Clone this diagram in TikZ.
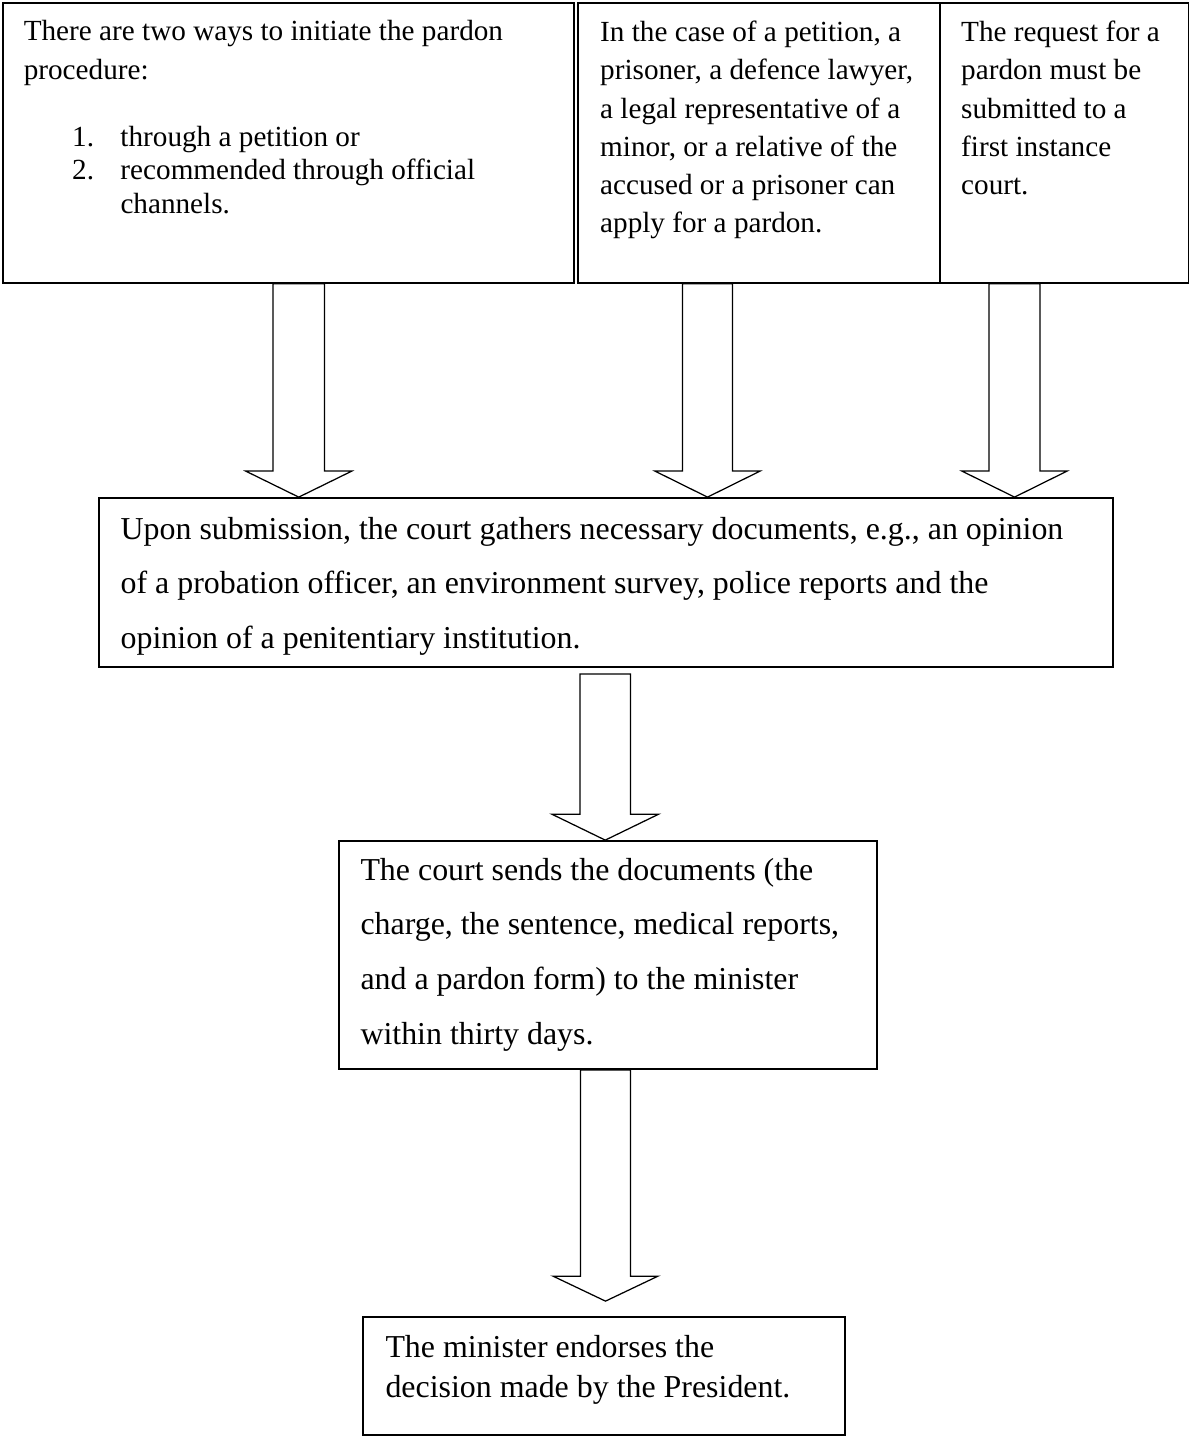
\documentclass[tikz,border=0pt]{standalone}
\usepackage{fontspec}
\setmainfont{Liberation Serif}
\usetikzlibrary{calc,fit}
% #1 start coordinate, #2 tip coordinate, #3 half shaft width, #4 half head width, #5 head height
\newcommand\blockarrow[5]{%
  \draw[blk] ($(#1)+(-#3,0)$) -- ($(#2)+(-#3,-#5)$) -- ($(#2)+(-#4,-#5)$) -- (#2)
    -- ($(#2)+(#4,-#5)$) -- ($(#2)+(#3,-#5)$) -- ($(#1)+(#3,0)$) -- cycle;}
\begin{document}
\begin{tikzpicture}[x=0.4pt,y=-0.4pt,
  box/.style={draw, line width=0.7pt, inner sep=0pt},
  blk/.style={draw, line width=0.5pt, line join=miter},
  small/.style={inner sep=0pt, anchor=base west, align=flush left, font=\fontsize{11.68}{15.3}\selectfont},
  large/.style={inner sep=0pt, anchor=base west, align=flush left, font=\fontsize{12.76}{21.7}\selectfont}]
\useasboundingbox (0,0) rectangle (1190,1437);

% boxes
\node[box, fit={(3,3) (574,283)}] (b1) {};
\node[box, fit={(578,3) (940,283)}] (b2) {};
\node[box, fit={(940,3) (1188.5,283)}] (b3) {};
\node[box, fit={(99,498) (1113,667)}] (b4) {};
\node[box, fit={(339,841) (877,1069)}] (b5) {};
\node[box, fit={(363,1317) (845,1435)}] (b6) {};

% texts
\node[small, text width=216pt, font=\fontsize{11.68}{15.7}\selectfont] (t1) at (23.3,40.7)
  {There are two ways to initiate the pardon\\procedure:};
\node[small, text width=200pt, font=\fontsize{11.68}{13.32}\selectfont] (t1l) at (71.7,146.7)
  {\makebox[19.32pt][l]{1.}through a petition or\\
   \makebox[19.32pt][l]{2.}recommended through official\\
   \hspace*{19.32pt}channels.};
\node[small, text width=140pt] (t2) at (599.7,41.7)
  {In the case of a petition, a\\prisoner, a defence lawyer,\\a legal representative of a\\minor, or a relative of the\\accused or a prisoner can\\apply for a pardon.};
\node[small, text width=92pt] (t3) at (960.7,41.7)
  {The request for a\\pardon must be\\submitted to a\\first instance\\court.};
\node[large, text width=420pt, font=\fontsize{12.76}{21.6}\selectfont] (t4) at (120.2,540)
  {Upon submission, the court gathers necessary documents, e.g., an opinion\\of a probation officer, an environment survey, police reports and the\\opinion of a penitentiary institution.};
\node[large, text width=210pt, font=\fontsize{12.76}{21.9}\selectfont] (t5) at (360,880)
  {The court sends the documents (the\\charge, the sentence, medical reports,\\and a pardon form) to the minister\\within thirty days.};
\node[large, text width=185pt, font=\fontsize{12.76}{16}\selectfont] (t6) at (385,1357)
  {The minister endorses the\\decision made by the President.};

% block arrows
\coordinate (a1s) at (298.75,0 |- b1.south);
\coordinate (a1e) at (298.75,0 |- b4.north);
\coordinate (a2s) at (707.5,0 |- b2.south);
\coordinate (a2e) at (707.5,0 |- b4.north);
\coordinate (a3s) at (1014.5,0 |- b3.south);
\coordinate (a3e) at (1014.5,0 |- b4.north);
\coordinate (a4x) at (605.25,0 |- b4.south);
\coordinate (a4s) at ($(a4x)+(0,6)$);
\coordinate (a4e) at (605.25,0 |- b5.north);
\coordinate (a5s) at (605.5,0 |- b5.south);
\coordinate (a5x) at (605.5,0 |- b6.north);
\coordinate (a5e) at ($(a5x)+(0,-15)$);

\blockarrow{a1s}{a1e}{25.75}{53}{26}
\blockarrow{a2s}{a2e}{25}{52.5}{26}
\blockarrow{a3s}{a3e}{25.5}{52.5}{26}
\blockarrow{a4s}{a4e}{25.25}{53.5}{26}
\blockarrow{a5s}{a5e}{25}{52.5}{25}
\end{tikzpicture}
\end{document}
